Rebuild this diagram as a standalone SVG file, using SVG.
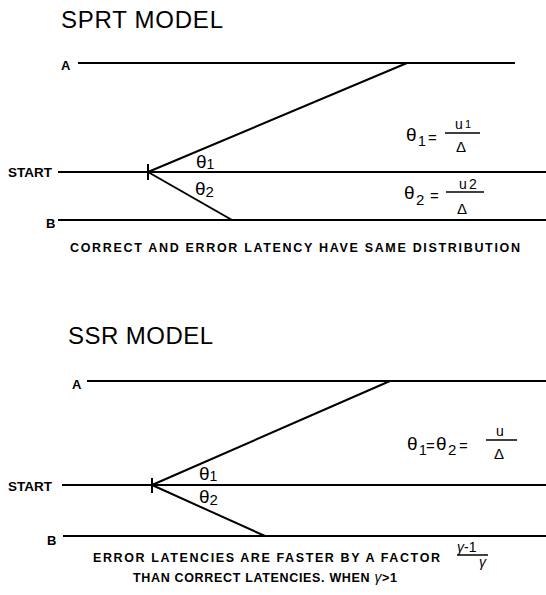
<svg xmlns="http://www.w3.org/2000/svg" width="546" height="595" viewBox="0 0 546 595">
<style>
.ln{stroke:#000;stroke-width:2;fill:none}
.fl{stroke:#000;stroke-width:1.5;fill:none}
text{font-family:"Liberation Sans",Arial,sans-serif;fill:#000}
.title{font-size:24px}
.lab{font-size:13px;font-weight:bold}
.cap{font-size:12.5px;font-weight:bold}
.g{font-size:19px}
.s{font-size:14px}
.f{font-size:15px}
</style>
<rect width="546" height="595" fill="#fff"/>

<g id="sprt">
  <text id="sprt-title" class="title" x="61" y="28" textLength="162" lengthAdjust="spacing">SPRT MODEL</text>
  <g id="sprt-A"><text class="lab" x="61" y="70">A</text></g>
  <g id="sprt-START"><text class="lab" x="8" y="177" textLength="44" lengthAdjust="spacingAndGlyphs">START</text></g>
  <g id="sprt-B"><text class="lab" x="46" y="228">B</text></g>
  <g id="sprt-theta-labels">
    <text class="g" x="196" y="168">θ<tspan class="s" dy="1">1</tspan></text>
    <text class="g" x="195" y="195">θ<tspan class="f" dy="2">2</tspan></text>
  </g>
  <g id="sprt-formula1">
    <text class="g" x="406" y="141">θ</text>
    <text class="s" x="418" y="146">1</text>
    <text class="f" x="428" y="143">=</text>
    <line class="fl" x1="445" y1="133" x2="480" y2="133"/>
    <text class="s" x="455" y="129">u</text>
    <text style="font-size:11px" x="465" y="128">1</text>
    <text class="f" x="456" y="152">Δ</text>
  </g>
  <g id="sprt-formula2">
    <text class="g" x="404" y="199">θ</text>
    <text class="f" x="416" y="205">2</text>
    <text class="f" x="430" y="201">=</text>
    <line class="fl" x1="446" y1="192" x2="484" y2="192"/>
    <text class="s" x="459" y="189">u</text>
    <text class="s" x="469" y="189">2</text>
    <text class="f" x="457" y="214">Δ</text>
  </g>
  <text id="sprt-caption" class="cap" x="70" y="252" textLength="450" lengthAdjust="spacing">CORRECT AND ERROR LATENCY HAVE SAME DISTRIBUTION</text>
</g>

<g id="ssr">
  <text id="ssr-title" class="title" x="68" y="344" textLength="145" lengthAdjust="spacing">SSR MODEL</text>
  <g id="ssr-A"><text class="lab" x="72" y="389">A</text></g>
  <g id="ssr-START"><text class="lab" x="8" y="491" textLength="44" lengthAdjust="spacingAndGlyphs">START</text></g>
  <g id="ssr-B"><text class="lab" x="47" y="545">B</text></g>
  <g id="ssr-theta-labels">
    <text class="g" x="199" y="480">θ<tspan class="s" dy="1">1</tspan></text>
    <text class="g" x="199" y="503">θ<tspan class="f" dy="2">2</tspan></text>
  </g>
  <g id="ssr-formula">
    <text class="g" x="407" y="450">θ</text>
    <text class="s" x="419" y="455">1</text>
    <text class="f" x="426" y="451">=</text>
    <text class="g" x="436" y="450">θ</text>
    <text class="f" x="448" y="455">2</text>
    <text class="f" x="459" y="451">=</text>
    <line class="fl" x1="486" y1="440" x2="517" y2="440"/>
    <text class="s" x="496" y="436">u</text>
    <text class="f" x="494" y="459">Δ</text>
  </g>
  <g id="ssr-caption">
    <text class="cap" x="93" y="562" textLength="347" lengthAdjust="spacing">ERROR LATENCIES ARE FASTER BY A FACTOR</text>
    <text class="s" x="457" y="552"><tspan font-style="italic">γ</tspan>-1</text>
    <line class="fl" x1="457" y1="555" x2="488" y2="555"/>
    <text class="s" x="479" y="567" font-style="italic">γ</text>
    <text class="cap" x="133" y="582" textLength="264" lengthAdjust="spacing">THAN CORRECT LATENCIES. WHEN <tspan font-style="italic" font-weight="normal" font-size="14">γ</tspan>&gt;1</text>
  </g>
</g>

<g id="connectors">
  <line class="ln" x1="78" y1="63" x2="515" y2="63"/>
  <line class="ln" x1="58" y1="172" x2="546" y2="172"/>
  <line class="ln" x1="58" y1="220" x2="546" y2="220"/>
  <line class="ln" x1="148" y1="172" x2="407" y2="63"/>
  <line class="ln" x1="148" y1="172" x2="232" y2="220"/>
  <line class="ln" x1="148" y1="164" x2="148" y2="180"/>

  <line class="ln" x1="87" y1="381" x2="546" y2="381"/>
  <line class="ln" x1="62" y1="485" x2="546" y2="485"/>
  <line class="ln" x1="63" y1="536" x2="546" y2="536"/>
  <line class="ln" x1="152" y1="485" x2="390" y2="381"/>
  <line class="ln" x1="152" y1="485" x2="265" y2="536"/>
  <line class="ln" x1="152" y1="478" x2="152" y2="493"/>
</g>
</svg>
